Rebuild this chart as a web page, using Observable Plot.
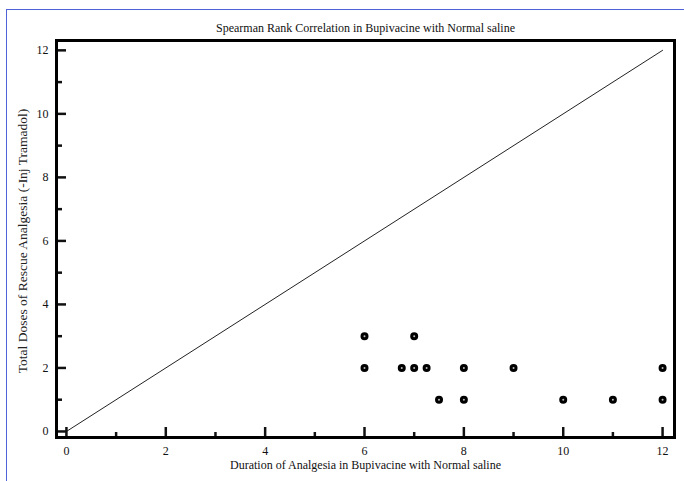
<!DOCTYPE html>
<html>
<head>
<meta charset="utf-8">
<script src="https://cdn.jsdelivr.net/npm/d3@7"></script>
<script src="https://cdn.jsdelivr.net/npm/@observablehq/plot@0.6"></script>
<style>
  html, body { margin: 0; padding: 0; background: #fff; }
  #wrap { position: relative; width: 684px; height: 481px; overflow: hidden; }
  #border { position: absolute; left: 6px; top: 9px; right: -2px; bottom: -2px;
            border-left: 1.5px solid #4f63d6; border-top: 1.5px solid #4f63d6; pointer-events: none; }
</style>
</head>
<body>
<div id="wrap"><div id="border"></div></div>
<script>
const title = "Spearman Rank Correlation in Bupivacine with Normal saline";
const xLabel = "Duration of Analgesia in Bupivacine with Normal saline";
const yLabel = "Total Doses of Rescue Analgesia (-Inj Tramadol)";

const duration = [6, 7, 6, 6.75, 7, 7.25, 8, 9, 12, 7.5, 8, 10, 11, 12];
const doses    = [3, 3, 2, 2,    2, 2,    2, 2, 2,  1,   1, 1,  1,  1];

const majorTicks = [0, 2, 4, 6, 8, 10, 12];
const minorTicks = [1, 3, 5, 7, 9, 11];
const identityLine = [0, 12];

const points = duration.map((d, i) => ({x: d, y: doses[i]}));
const font = "'Liberation Serif', 'Times New Roman', serif";

const chart = Plot.plot({
  width: 684,
  height: 481,
  marginLeft: 56,
  marginRight: 10,
  marginTop: 40,
  marginBottom: 44,
  style: {fontFamily: font, fontSize: "12px", background: "transparent", color: "#111"},
  x: {domain: [-0.2, 12.24]},
  y: {domain: [-0.19, 12.31]},
  marks: [
    Plot.line(identityLine, {x: d => d, y: d => d, stroke: "#222", strokeWidth: 1}),
    Plot.dot(points, {x: "x", y: "y", r: 2.5, fill: "black", stroke: "black", strokeWidth: 3}),
    Plot.dot(points, {x: "x", y: "y", r: 1, fill: "#bbb"}),
    Plot.axisY({ticks: majorTicks, tickSize: -10, text: null, strokeWidth: 2.5, label: null}),
    Plot.axisY({ticks: minorTicks, tickSize: -6, text: null, strokeWidth: 2.5, label: null}),
    Plot.axisY({ticks: majorTicks, tickSize: 0, tickPadding: 8, fontSize: 12, label: null}),
    Plot.axisX({ticks: majorTicks, tickSize: -10, text: null, strokeWidth: 2.5, label: null}),
    Plot.axisX({ticks: minorTicks, tickSize: -5, text: null, strokeWidth: 2.5, label: null}),
    Plot.axisX({ticks: majorTicks, tickSize: 0, tickPadding: 9, fontSize: 12, label: null}),
    Plot.frame({stroke: "black", strokeWidth: 3}),
    Plot.text([title], {frameAnchor: "top", dy: -17, fontSize: 12, fill: "#111"}),
    Plot.text([xLabel], {frameAnchor: "bottom", dy: 31, fontSize: 12, fill: "#111"}),
    Plot.text([yLabel], {frameAnchor: "left", textAnchor: "middle", dx: -34, dy: 2, rotate: -90, fontSize: 13.5, fill: "#222"})
  ]
});
document.getElementById("wrap").prepend(chart);
</script>
</body>
</html>
